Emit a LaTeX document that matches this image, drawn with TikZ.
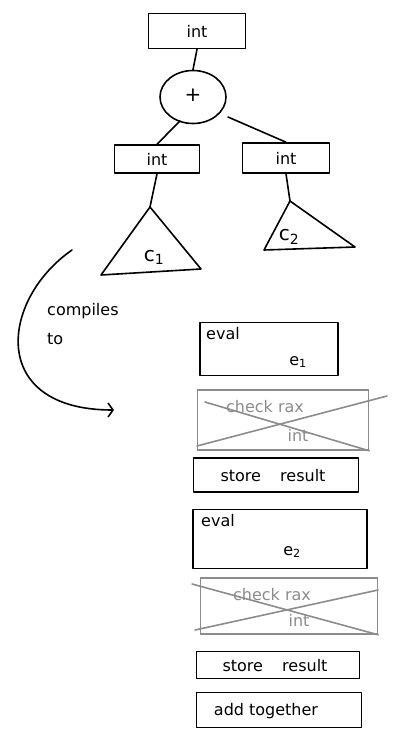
\documentclass[tikz,border=0pt]{standalone}
\usepackage{fontspec}
\setmainfont{DejaVu Sans}
\usetikzlibrary{arrows.meta,shapes.geometric}
\tikzset{
  ink/.style={line width=1.6pt, black, line cap=round, line join=round},
  box/.style={ink, draw, rectangle, inner sep=0pt},
  struck/.style={draw=gray!90, line width=1.6pt, rectangle, inner sep=0pt},
  strike/.style={gray!90, line width=1.6pt, line cap=round},
  lbl/.style={font=\fontsize{16}{19}\selectfont, inner sep=1pt},
  big/.style={font=\fontsize{20}{22}\selectfont, inner sep=1pt},
  glbl/.style={lbl, text=gray!90},
}
\begin{document}
\begin{tikzpicture}[x=1pt,y=-1pt]
\useasboundingbox (0,0) rectangle (393,734);

% --- the typed expression tree ---
\node[box, minimum width=97pt, minimum height=35pt] (top) at (197,31) {};
\node[lbl] (toplbl) at (197,31) {int};
\node[ink, draw, ellipse, minimum width=66pt, minimum height=53pt, inner sep=0pt] (plus) at (193,97) {};
\node[big] (pluslbl) at (193,95) {+};
\node[box, minimum width=85pt, minimum height=28pt] (li) at (157,159) {};
\node[lbl] (lilbl) at (157,159) {int};
\node[box, minimum width=87pt, minimum height=30pt] (ri) at (286,158) {};
\node[lbl] (rilbl) at (286,158) {int};

\coordinate (pl) at (180,121);
\coordinate (pr) at (228,117);
\draw[ink] (top.south) -- (plus.north);
\draw[ink] (pl) -- (li.north);
\draw[ink] (pr) -- (ri.north);

% subtree c1
\coordinate (t1a) at (150,207);
\coordinate (t1l) at (101,275);
\coordinate (t1r) at (201,269);
\draw[ink] (li.south) -- (t1a);
\draw[ink] (t1a) -- (t1l) -- (t1r) -- cycle;
\node[big] (c1) at (154,257) {c\textsubscript{1}};

% subtree c2
\coordinate (t2a) at (290,201);
\coordinate (t2l) at (264,250);
\coordinate (t2r) at (355,247);
\draw[ink] (ri.south) -- (t2a);
\draw[ink] (t2a) -- (t2l) -- (t2r) -- cycle;
\node[big] (c2) at (289,237) {c\textsubscript{2}};

% --- the compilation arrow ---
\coordinate (arrs) at (72,250);
\coordinate (arre) at (114,410);
\draw[ink, -{Straight Barb[length=5pt, width=14pt, line width=1.6pt]}]
  (arrs) .. controls (0,300) and (-12,410) .. (arre);
\node[lbl, align=left, anchor=north west] (comp) at (46,302) {compiles\\[10pt]to};

% --- the generated code ---
\node[box, minimum width=138pt, minimum height=53pt] (ev1) at (269,349) {};
\node[lbl, anchor=north west] (ev1a) at (205,326) {eval};
\node[lbl] (ev1b) at (298,362) {e\textsubscript{1}};

\node[struck, minimum width=171pt, minimum height=60pt] (ck1) at (283,420) {};
\node[glbl] (ck1a) at (265,407) {check rax};
\node[glbl] (ck1b) at (298,435) {int};
\coordinate (k1a) at (197,446);
\coordinate (k1b) at (387,396);
\coordinate (k1c) at (205,402);
\draw[strike] (k1a) -- (k1b);
\draw[strike] (k1c) -- (ck1.south east);

\node[box, minimum width=165pt, minimum height=34pt] (st1) at (276,475) {};
\node[lbl] (st1l) at (273,476) {store\hspace{1.2em}result};

\node[box, minimum width=174pt, minimum height=59pt] (ev2) at (280,539) {};
\node[lbl, anchor=north west] (ev2a) at (200,513) {eval};
\node[lbl] (ev2b) at (292,552) {e\textsubscript{2}};

\node[struck, minimum width=177pt, minimum height=56pt] (ck2) at (289,606) {};
\node[glbl] (ck2a) at (272,595) {check rax};
\node[glbl] (ck2b) at (299,620) {int};
\coordinate (k2a) at (195,630);
\coordinate (k2b) at (378,590);
\coordinate (k2c) at (192,584);
\draw[strike] (k2a) -- (k2b);
\draw[strike] (k2c) -- (ck2.south east);

\node[box, minimum width=163pt, minimum height=27pt] (st2) at (278,665) {};
\node[lbl] (st2l) at (275,666) {store\hspace{1.2em}result};

\node[box, minimum width=165pt, minimum height=35pt] (add) at (279,710) {};
\node[lbl] (addl) at (266,711) {add together};
\end{tikzpicture}
\end{document}
